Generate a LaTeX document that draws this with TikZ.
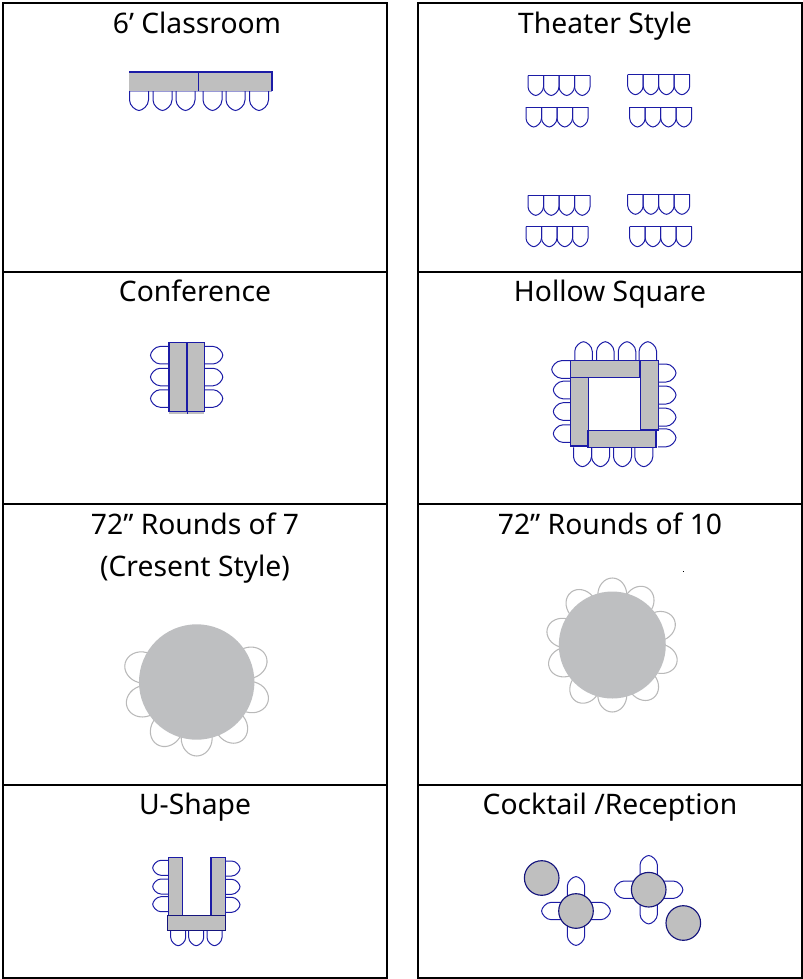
\documentclass[tikz,border=0pt]{standalone}
\usepackage{fontspec}
\setmainfont{Noto Sans}
\definecolor{seatblue}{HTML}{1C1CA6}
\definecolor{tablegray}{HTML}{BFBFBF}
\definecolor{roundgray}{HTML}{BEBFC1}
\definecolor{petalgray}{HTML}{B9B9B9}
\tikzset{pics/chair/.style n args={2}{code={\draw[seat] (-#1/2,0)--(-#1/2,#2-#1*.55) .. controls (-#1/2,#2-#1*.25) and (-#1/6,#2) .. (0,#2) .. controls (#1/6,#2) and (#1/2,#2-#1*.25) .. (#1/2,#2-#1*.55)--(#1/2,0);}}}
\begin{document}
\begin{tikzpicture}[x=.75pt,y=-.75pt,cell/.style={draw=black,line width=.95pt},title/.style={font=\fontsize{21.2}{24}\selectfont,text=black,inner sep=0pt,anchor=base},seat/.style={draw=seatblue,line width=.75pt},tabletop/.style={draw=seatblue,fill=tablegray,line width=.85pt},petal/.style={draw=petalgray,line width=.8pt,fill=white},round/.style={fill=roundgray},stand/.style={draw=seatblue!75!black,fill=tablegray,line width=.85pt}]
 \useasboundingbox (0,0) rectangle (803,979);
 % cells
 \foreach \x in {3,418}{\foreach \ya/\yb in {3/272,272/504,504/785,785/978}{\draw[cell] (\x,\ya) rectangle (\x+384,\yb);}}
 % titles
 \node[title] (classroom) at (197,33) {6’ Classroom};
 \node[title] (theater) at (605,33) {Theater Style};
 \node[title] (conference) at (195,301) {Conference};
 \node[title] (hollow) at (610,301) {Hollow Square};
 \node[title] (roundsa) at (195,534) {72” Rounds of 7};
 \node[title] (crescent) at (195,576) {(Cresent Style)};
 \node[title] (roundsb) at (610,534) {72” Rounds of 10};
 \node[title] (ushape) at (195,814) {U-Shape};
 \node[title] (cocktail) at (610,814) {Cocktail /Reception};
 % classroom
 \foreach \x in {139,162.5,185.5,212.5,235.5,259}{\pic at (\x,91) {chair={19}{19.5}};}
 \fill[tablegray] (129,72) rectangle (272,91);
 \draw[tabletop,fill=none] (129,72)--(272,72)--(272,91);
 \draw[tabletop,fill=none] (198.5,72)--(198.5,91);
 \draw[seat,draw opacity=.45] (129,91)--(272,91);
 % theater
 \foreach \x/\y in {528/75.5,526/107,627.7/74.7,629.7/107,528/195.3,526/226.7,627.7/194.3,629.7/226.7}{
  \draw[seat] (\x,\y)--(\x+62,\y);
  \foreach \i in {0,...,3}{\pic at (\x+7.75+15.5*\i,\y) {chair={15.5}{20}};}}
 % conference
 \foreach \y in {355.2,377,398.5}{\pic[rotate=-90] at (169,\y) {chair={17.5}{18.5}};\pic[rotate=90] at (204.3,\y) {chair={17.5}{18.5}};}
 \draw[tabletop] (169,342.3) rectangle (187,411.7);
 \draw[tabletop] (187,342.3) rectangle (204.3,411.7);
 \fill[tablegray] (169,411.7) rectangle (204.3,414);
 \draw[seat] (187,411.7)--(187,414);
 % hollow square
 \foreach \x in {583.5,605.3,627,647.8}{\pic[rotate=180] at (\x,360.7) {chair={17.5}{19}};}
 \foreach \x in {582.5,600.5,622.5,643.8}{\pic at (\x,447.3) {chair={18}{19.4}};}
 \pic[rotate=-90] at (570.7,369.5) {chair={17.6}{19}};
 \foreach \y in {390,411.5,433.6}{\pic[rotate=-90] at (570.7,\y) {chair={17.6}{17.4}};}
 \foreach \y in {373,395,417.2,437.8}{\pic[rotate=90] at (658,\y) {chair={18}{18}};}
 \draw[tabletop] (570.7,377.3) rectangle (588.7,446);
 \draw[tabletop] (640.7,360.7) rectangle (658.3,430);
 \draw[tabletop] (588,430.3) rectangle (656,447.3);
 \draw[tabletop] (570.7,360.7) rectangle (640,377.3);
 % rounds of 7
 \foreach \a in {195,160,122.5,90,52,15.6,-20}{\draw[petal] (196.7,682)+(\a:56) ellipse [x radius=18,y radius=15.5,rotate=-\a];}
 \fill[round] (196.7,682) circle [x radius=57.7,y radius=57.7];
 % rounds of 10
 \foreach \a in {-90,-58,-22,16,52,90,123,160,194,232}{\draw[petal] (612.3,645)+(\a:50) ellipse [x radius=17,y radius=14.5,rotate=-\a];}
 \fill[round] (612.3,645) circle [x radius=53.5,y radius=53.5];
 \draw[black,line width=.5pt] (682.8,571)--(684.4,571);
 % u-shape
 \foreach \y in {867.8,886.5,904.2}{\pic[rotate=-90] at (168.3,\y) {chair={15}{15.6}};}
 \foreach \y in {868.5,886.8,904.8}{\pic[rotate=90] at (225.3,\y) {chair={15}{14.7}};}
 \foreach \x in {178.2,196.2,214.5}{\pic at (\x,930.3) {chair={15}{15.4}};}
 \draw[tabletop] (168.3,857.3) rectangle (182.7,915.7);
 \draw[tabletop] (211,857.3) rectangle (225.3,915.7);
 \draw[stand] (167.7,915.7) rectangle (225.3,930.3);
 % cocktail
 \foreach \x/\y/\r in {576/911/34.4,648.7/889.7/34.2}{
  \foreach \t in {0,90,180,-90}{\pic[rotate=\t] at (\x,\y) {chair={17.4}{\r}};}}
 \foreach \x/\y in {541.7/878,576/911,648.7/889.7,683.3/923}{\draw[stand] (\x,\y) circle [x radius=17.3,y radius=17.3];}
\end{tikzpicture}
\end{document}
